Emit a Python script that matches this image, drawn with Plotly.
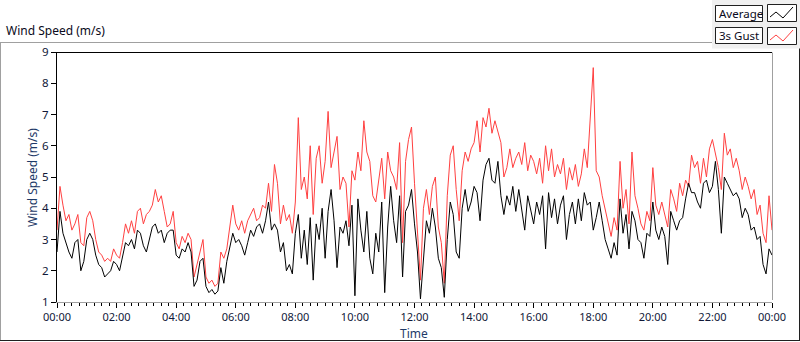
import plotly.graph_objects as go

# ---- data (one sample every 6 minutes) ----
hours = [i / 10 for i in range(241)]

gust = [
    3.3, 4.7, 4.1, 3.6, 3.8, 3.3, 3.5, 3.8, 2.9, 2.8,
    3.7, 3.9, 3.6, 3.0, 2.6, 2.5, 2.3, 2.4, 2.3, 2.7,
    2.5, 2.4, 2.9, 3.5, 3.2, 3.6, 3.2, 3.9, 4.0, 3.5,
    3.8, 3.9, 4.1, 4.6, 4.2, 4.4, 3.9, 3.4, 3.5, 3.9,
    2.9, 2.7, 3.1, 2.9, 3.2, 3.0, 1.8, 2.2, 2.7, 3.0,
    1.8, 1.6, 1.7, 1.5, 1.6, 2.6, 2.4, 2.7, 3.4, 4.1,
    3.5, 3.3, 3.6, 3.2, 3.6, 3.8, 4.0, 3.6, 3.7, 4.1,
    4.0, 4.8, 3.9, 5.4, 4.8, 3.5, 4.1, 3.6, 3.8, 3.2,
    4.2, 6.9, 4.6, 5.0, 4.3, 6.0, 3.8, 5.6, 6.0, 4.8,
    5.5, 7.1, 5.3, 5.8, 6.3, 4.6, 5.0, 4.8, 3.4, 5.2,
    4.9, 5.8, 5.2, 6.8, 5.8, 5.5, 4.4, 4.2, 4.9, 5.6,
    4.3, 5.8, 5.2, 5.0, 4.6, 6.1, 2.9, 5.5, 6.2, 6.6,
    4.8, 3.4, 1.7, 4.0, 4.6, 3.8, 4.7, 5.0, 3.4, 2.9,
    1.6, 4.4, 5.7, 6.0, 4.6, 3.6, 5.2, 5.8, 5.5, 5.9,
    6.1, 6.8, 5.8, 6.9, 6.6, 7.2, 6.4, 6.8, 6.4, 6.1,
    5.0, 5.3, 5.9, 5.3, 5.6, 5.8, 5.4, 6.1, 5.2, 5.7,
    5.5, 5.1, 5.6, 4.8, 6.0, 5.2, 5.9, 5.0, 5.4, 5.1,
    5.6, 4.6, 5.3, 4.9, 5.4, 4.7, 5.1, 5.9, 5.3, 7.1,
    8.5, 5.2, 5.0, 4.4, 4.0, 3.6, 3.1, 3.7, 3.3, 5.5,
    4.0, 4.6, 3.5, 5.8, 4.4, 4.0, 3.5, 3.3, 3.9, 3.6,
    5.3, 4.1, 3.8, 4.2, 3.8, 3.4, 4.6, 4.3, 3.9, 4.8,
    4.4, 4.9, 4.7, 5.7, 5.3, 5.5, 4.8, 5.6, 5.0, 5.9,
    6.2, 5.7, 5.3, 4.6, 6.4, 5.7, 5.9, 5.3, 5.6, 5.2,
    4.6, 5.0, 4.7, 4.3, 4.6, 3.8, 4.1, 3.2, 2.9, 4.4,
    3.3,
]

average = [
    2.6, 3.9, 3.2, 2.9, 2.6, 2.4, 2.9, 3.0, 2.0, 2.3,
    3.0, 3.2, 3.0, 2.5, 2.2, 2.1, 1.8, 1.9, 2.0, 2.3,
    2.2, 2.0, 2.5, 2.9, 2.8, 3.0, 2.7, 3.3, 3.2, 2.8,
    2.6, 3.0, 3.4, 3.5, 3.2, 3.3, 2.9, 3.2, 3.3, 3.3,
    2.5, 2.4, 2.7, 2.6, 2.9, 2.6, 1.5, 1.7, 2.3, 2.4,
    1.5, 1.3, 1.4, 1.25, 1.35, 2.1, 1.6, 2.3, 2.8, 3.2,
    2.9, 3.0, 2.8, 2.5, 2.9, 3.3, 3.1, 3.4, 3.5, 3.2,
    3.6, 4.2, 3.3, 3.5, 3.3, 2.6, 2.9, 2.0, 2.2, 1.9,
    3.2, 3.8, 2.4, 3.3, 2.2, 3.7, 1.7, 3.5, 3.0, 4.0,
    2.4, 3.9, 4.6, 3.6, 2.1, 3.4, 3.2, 3.6, 2.8, 4.1,
    1.2, 4.3, 3.3, 2.6, 3.9, 2.4, 1.9, 3.2, 2.6, 4.2,
    1.3, 3.4, 4.7, 3.6, 2.9, 4.4, 1.8, 3.9, 4.1, 4.6,
    3.5, 2.6, 1.1, 2.5, 3.6, 3.2, 4.0, 3.4, 2.4, 2.1,
    1.15, 3.0, 4.2, 3.8, 2.6, 2.4, 4.0, 4.6, 3.9, 4.2,
    4.7, 4.5, 3.6, 4.9, 5.4, 5.6, 4.9, 4.8, 5.5, 4.4,
    3.8, 4.4, 4.1, 4.7, 3.9, 4.6, 4.0, 3.3, 4.4, 4.0,
    3.5, 4.2, 3.8, 4.4, 2.7, 4.5, 3.7, 4.3, 3.5, 4.1,
    4.4, 3.0, 3.8, 4.2, 3.5, 4.3, 3.6, 4.5, 4.1, 4.2,
    3.3, 3.7, 4.2, 3.6, 3.0, 2.7, 2.4, 2.9, 2.5, 4.3,
    3.2, 3.8, 2.7, 3.9, 3.6, 3.0, 2.9, 2.4, 3.2, 3.1,
    4.2, 3.3, 3.0, 3.4, 3.1, 2.2, 3.9, 3.6, 3.3, 3.6,
    3.7, 4.3, 4.8, 4.5, 4.5, 4.2, 4.0, 4.8, 4.9, 4.5,
    4.7, 5.5, 4.6, 3.2, 5.0, 4.8, 4.6, 4.4, 4.5, 4.3,
    3.7, 4.0, 3.8, 3.3, 3.4, 3.0, 3.1, 2.2, 1.9, 2.7,
    2.5,
]

tick_hours = [0, 2, 4, 6, 8, 10, 12, 14, 16, 18, 20, 22, 24]
tick_labels = ["00:00", "02:00", "04:00", "06:00", "08:00", "10:00", "12:00",
               "14:00", "16:00", "18:00", "20:00", "22:00", "00:00"]
y_ticks = [1, 2, 3, 4, 5, 6, 7, 8, 9]

# ---- layout geometry (pixels) ----
W, H = 800, 342
L, R, T, B = 57, 772, 52, 302


def px(x):
    return (x - L) / (R - L)


def py(y):
    return (B - y) / (B - T)


FONT = "Noto Sans"
TICKCOL = "#101838"
GRAY = "#a0a0a0"

fig = go.Figure()
fig.add_trace(go.Scatter(x=hours, y=gust, mode="lines", name="3s Gust",
                         line=dict(color="#ff4040", width=1), showlegend=False))
fig.add_trace(go.Scatter(x=hours, y=average, mode="lines", name="Average",
                         line=dict(color="#000000", width=1), showlegend=False))

shapes = []


def line(x0, y0, x1, y1, color, w=1):
    shapes.append(dict(type="line", xref="paper", yref="paper",
                       x0=px(x0), y0=py(y0), x1=px(x1), y1=py(y1),
                       line=dict(color=color, width=w), layer="above"))


def rect(x0, y0, x1, y1, fill, color=None):
    shapes.append(dict(type="rect", xref="paper", yref="paper",
                       x0=px(x0), y0=py(y0), x1=px(x1), y1=py(y1),
                       fillcolor=fill,
                       line=dict(color=color or fill, width=1 if color else 0),
                       layer="above"))


# legend panel
rect(712, 0, 800, 48.5, "#f0f0f0")
# outer frame
line(0, 42.5, 712, 42.5, GRAY)
line(0.5, 42.5, 0.5, 340.5, GRAY)
line(0, 340.5, 800, 340.5, "#202020")
line(799.5, 48.5, 799.5, 341, "#202020")
# plot frame
line(L, 52.5, R, 52.5, "#000000")
line(R + 0.5, 52.5, R + 0.5, 300, GRAY)

# legend boxes
rect(715.5, 5.5, 762.5, 21.5, "#ffffff", "#202020")
rect(767.5, 4.5, 796.5, 21.5, "#ffffff", "#202020")
rect(715.5, 27.5, 762.5, 43.5, "#ffffff", "#202020")
rect(767.5, 27.5, 796.5, 44.5, "#ffffff", "#202020")


def zig(y0, color):
    pts = [(770, y0 + 5), (776, y0), (783, y0 + 6), (793, y0 - 5)]
    d = "M " + " L ".join(f"{px(a)},{py(b)}" for a, b in pts)
    shapes.append(dict(type="path", xref="paper", yref="paper", path=d,
                       line=dict(color=color, width=1), layer="above"))


zig(12, "#000000")
zig(35, "#ff4040")

annotations = [
    dict(text="Wind Speed (m/s)", x=px(4), y=py(31), xanchor="left", yanchor="middle",
         font=dict(family=FONT, size=12, color="#0a0a20")),
    dict(text="Average", x=px(717), y=py(13.5), xanchor="left", yanchor="middle",
         font=dict(family=FONT, size=11.5, color="#0a0a20")),
    dict(text="3s Gust", x=px(717), y=py(35.5), xanchor="left", yanchor="middle",
         font=dict(family=FONT, size=11.5, color="#0a0a20")),
    dict(text="Wind Speed (m/s)", x=px(32), y=py(177), textangle=-90,
         xanchor="center", yanchor="middle",
         font=dict(family=FONT, size=12, color="#1e3a68")),
    dict(text="Time", x=px(414), y=py(333), xanchor="center", yanchor="middle",
         font=dict(family=FONT, size=12, color="#1e3a68")),
]
for a in annotations:
    a.update(xref="paper", yref="paper", showarrow=False)

fig.update_layout(
    width=W, height=H,
    margin=dict(l=L, r=W - R, t=T, b=H - B, pad=0),
    paper_bgcolor="#ffffff", plot_bgcolor="#ffffff",
    shapes=shapes, annotations=annotations, showlegend=False,
    xaxis=dict(range=[0, 24], tickmode="array", tickvals=tick_hours, ticktext=tick_labels,
               ticks="outside", ticklen=5, tickcolor="#000000", showgrid=False,
               zeroline=False, showline=True, linecolor=GRAY, linewidth=1,
               tickfont=dict(family=FONT, size=11, color=TICKCOL),
               minor=dict(tickmode="linear", tick0=0, dtick=0.25, ticks="outside",
                          ticklen=3, tickcolor="#000000", showgrid=False)),
    yaxis=dict(range=[1, 9], tickmode="array", tickvals=y_ticks, ticks="outside",
               ticklen=5, tickcolor="#000000", showgrid=False, zeroline=False,
               showline=True, linecolor="#000000", linewidth=1,
               tickfont=dict(family=FONT, size=11.5, color=TICKCOL)),
)

fig.write_html(
    "out.html",
    config={"displayModeBar": False},
    post_script="document.body.style.margin='0';document.body.style.padding='0';"
                "document.body.style.overflow='hidden';",
)
